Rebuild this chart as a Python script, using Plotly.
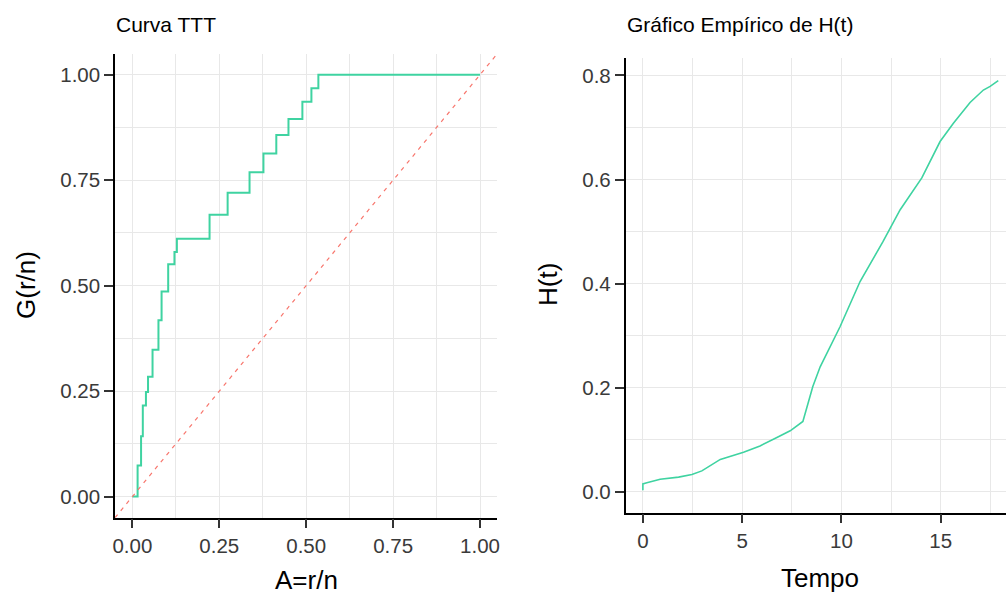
import plotly.graph_objects as go

# ---------------- data ----------------
# TTT curve (step): A = r/n, G(r/n)
ttt_A = [0.0, 0.015, 0.025, 0.030, 0.039, 0.045, 0.058, 0.075, 0.084, 0.103, 0.121,
         0.128, 0.222, 0.274, 0.337, 0.377, 0.414, 0.449, 0.489, 0.515, 0.535, 1.0]
ttt_G = [0.0, 0.0735, 0.143, 0.216, 0.248, 0.284, 0.348, 0.418, 0.486, 0.551, 0.580,
         0.611, 0.668, 0.720, 0.769, 0.813, 0.857, 0.895, 0.936, 0.968, 1.0, 1.0]

# Empirical H(t)
tempo = [0.0, 0.0, 0.2, 0.87, 1.8, 2.47, 2.97, 3.9, 5.07, 5.9, 6.75, 7.42, 8.06, 8.56,
         8.93, 9.93, 10.94, 11.28, 12.1, 12.96, 14.05, 14.97, 15.64, 16.48, 17.15, 17.49, 17.9]
H_t = [0.003, 0.015, 0.017, 0.024, 0.028, 0.033, 0.040, 0.062, 0.076, 0.088, 0.104, 0.117,
       0.135, 0.202, 0.240, 0.317, 0.404, 0.426, 0.481, 0.542, 0.603, 0.673, 0.708, 0.748,
       0.772, 0.779, 0.790]

W, Hh = 1006, 596
FONT = "Liberation Sans, Arial, sans-serif"
GREEN = "#3FD3A1"
RED = "#F8766D"
GRID = "#E8E8E8"

x1_range = [-0.05, 1.05]
y1_range = [-0.05, 1.05]
x2_range = [-0.87, 18.29]
y2_range = [-0.040, 0.833]


def px_x(p):
    return p / W


def px_y(p):
    return (Hh - p) / Hh


fig = go.Figure()

fig.add_trace(go.Scatter(x=ttt_A, y=ttt_G, mode="lines", line=dict(color=GREEN, width=2, shape="hv"),
                         xaxis="x", yaxis="y", showlegend=False, hoverinfo="skip"))
# identity reference line (abline slope 1) across the panel
fig.add_trace(go.Scatter(x=x1_range, y=x1_range, mode="lines",
                         line=dict(color=RED, width=1.2, dash="4px,5px"),
                         xaxis="x", yaxis="y", showlegend=False, hoverinfo="skip"))
fig.add_trace(go.Scatter(x=tempo, y=H_t, mode="lines", line=dict(color=GREEN, width=1.6),
                         xaxis="x2", yaxis="y2", showlegend=False, hoverinfo="skip"))

tickfont = dict(family=FONT, size=20.5, color="#3A3A3A")
common = dict(showline=True, linecolor="black", linewidth=1.5, ticks="outside", ticklen=9,
              tickwidth=1.5, tickcolor="#333333", showgrid=True, gridcolor=GRID, gridwidth=1.2,
              zeroline=False, tickfont=tickfont, automargin=False, fixedrange=True)

fig.update_layout(
    width=W, height=Hh, autosize=False,
    margin=dict(l=0, r=0, t=0, b=0),
    paper_bgcolor="white", plot_bgcolor="white",
    xaxis=dict(domain=[px_x(115), px_x(497.4)], range=x1_range, anchor="y",
               tickmode="linear", tick0=0, dtick=0.25, tickformat=".2f",
               minor=dict(tickvals=[0.125, 0.375, 0.625, 0.875], showgrid=True,
                          gridcolor=GRID, gridwidth=1.2, ticks=""), **common),
    yaxis=dict(domain=[px_y(517.7), px_y(53.6)], range=y1_range, anchor="x",
               tickmode="linear", tick0=0, dtick=0.25, tickformat=".2f",
               minor=dict(tickvals=[0.125, 0.375, 0.625, 0.875], showgrid=True,
                          gridcolor=GRID, gridwidth=1.2, ticks=""), **common),
    xaxis2=dict(domain=[px_x(625.6), 1.0], range=x2_range, anchor="y2",
                tickmode="linear", tick0=0, dtick=5,
                minor=dict(tickvals=[2.5, 7.5, 12.5, 17.5], showgrid=True,
                           gridcolor=GRID, gridwidth=1.2, ticks=""), **common),
    yaxis2=dict(domain=[px_y(512.5), px_y(58.3)], range=y2_range, anchor="x2",
                tickmode="linear", tick0=0, dtick=0.2, tickformat=".1f",
                minor=dict(tickvals=[0.1, 0.3, 0.5, 0.7], showgrid=True,
                           gridcolor=GRID, gridwidth=1.2, ticks=""), **common),
)

ann_common = dict(xref="paper", yref="paper", showarrow=False)
fig.add_annotation(text="Curva TTT", x=px_x(114), y=px_y(24.7), xanchor="left", yanchor="middle",
                   font=dict(family=FONT, size=21, color="black"), **ann_common)
fig.add_annotation(text="Gráfico Empírico de H(t)", x=px_x(625), y=px_y(24.7), xanchor="left",
                   yanchor="middle", font=dict(family=FONT, size=21, color="black"), **ann_common)
fig.add_annotation(text="A=r/n", x=px_x(306), y=0, xanchor="center", yanchor="bottom",
                   font=dict(family=FONT, size=26, color="black"), borderpad=0, **ann_common)
fig.add_annotation(text="G(r/n)", x=px_x(25.5), y=px_y(285.5), xanchor="center", yanchor="middle",
                   textangle=-90, font=dict(family=FONT, size=26, color="black"), **ann_common)
fig.add_annotation(text="Tempo", x=px_x(820), y=px_y(577.7), xanchor="center", yanchor="middle",
                   font=dict(family=FONT, size=26, color="black"), **ann_common)
fig.add_annotation(text="H(t)", x=px_x(548), y=px_y(285), xanchor="center", yanchor="middle",
                   textangle=-90, font=dict(family=FONT, size=26, color="black"), **ann_common)

fig.write_html("out.html")
